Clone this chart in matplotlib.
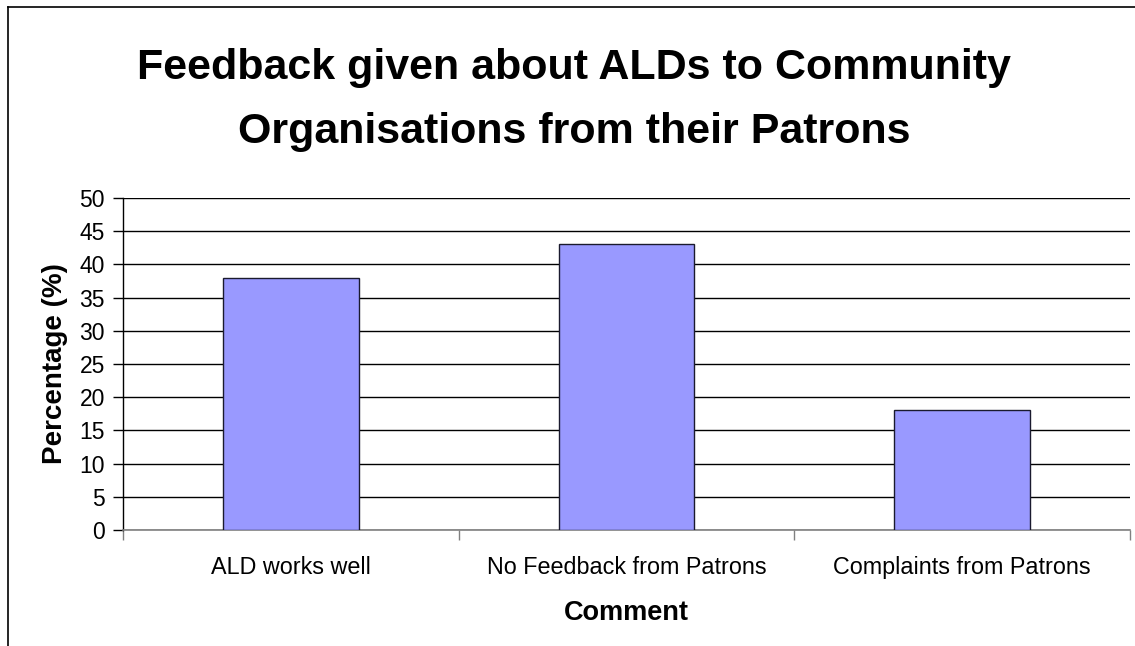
import matplotlib.pyplot as plt
from matplotlib.lines import Line2D

# Survey results
comments = ['ALD works well', 'No Feedback from Patrons', 'Complaints from Patrons']
percentages = [38, 43, 18]
yticks = list(range(0, 51, 5))
title_lines = ['Feedback given about ALDs to Community',
               'Organisations from their Patrons']

plt.rcParams['font.family'] = ['Liberation Sans', 'DejaVu Sans']

W, H = 1135, 646
fig = plt.figure(figsize=(W / 100, H / 100), dpi=100)
ax = fig.add_axes([123 / W, (H - 530) / H, (1130 - 123) / W, (530 - 198) / H])

x = range(len(comments))
ax.bar(x, percentages, width=0.405, color='#9999FF', edgecolor='#1a1a2e',
       linewidth=1.0, zorder=3)

ax.set_xlim(-0.5, len(comments) - 0.5)
ax.set_ylim(0, 50)
ax.set_yticks(yticks)
ax.tick_params(axis='y', labelsize=16.5, length=7, width=1, pad=6)
ax.yaxis.grid(True, color='black', linewidth=1)
ax.set_axisbelow(True)

# category labels sit between the boundary ticks
ax.set_xticks([i - 0.5 for i in range(len(comments) + 1)])
ax.set_xticklabels([])
ax.set_xticks(list(x), minor=True)
ax.set_xticklabels(comments, minor=True, fontsize=16.8)
ax.tick_params(axis='x', which='major', length=7, width=1, color='#808080')
ax.tick_params(axis='x', which='minor', length=0, pad=19)

for side in ('top', 'right'):
    ax.spines[side].set_visible(False)
ax.spines['left'].set_linewidth(1)
ax.spines['bottom'].set_color('#808080')
ax.spines['bottom'].set_linewidth(1.2)

ax.set_ylabel('Percentage (%)', fontsize=20, fontweight='bold', labelpad=8)
ax.set_xlabel('Comment', fontsize=19.5, fontweight='bold', labelpad=15)

# two-line chart title, baselines placed separately
for line, base in zip(title_lines, [79, 143]):
    fig.text(574 / W, 1 - base / H, line, ha='center', va='baseline',
             fontsize=31, fontweight='bold')

# chart frame
fig.add_artist(Line2D([8 / W, 8 / W], [0, 1 - 7 / H], color='black', linewidth=1.2))
fig.add_artist(Line2D([8 / W, 1], [1 - 7 / H, 1 - 7 / H], color='black', linewidth=1.2))

fig.savefig('out.png', dpi=100)
